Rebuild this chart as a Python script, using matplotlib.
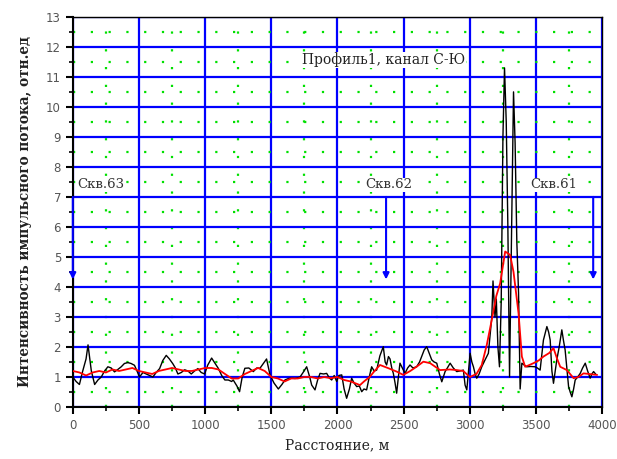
import matplotlib
matplotlib.use("Agg")
import matplotlib.pyplot as plt
from matplotlib.ticker import MultipleLocator

# ---- data ----
black_x = [0, 25, 50, 75, 100, 115, 140, 165, 190, 215, 240, 265, 290, 315, 340, 366, 390, 416, 440, 466,
           485, 504, 530, 555, 580, 605, 630, 656, 680, 706, 730, 756, 775, 794, 820, 845, 870, 895, 920, 945,
           970, 996, 1020, 1049, 1075, 1099, 1125, 1149, 1175, 1200, 1212, 1240, 1260, 1280, 1300, 1330, 1364,
           1390, 1414, 1440, 1464, 1490, 1520, 1553, 1580, 1603, 1630, 1654, 1680, 1717, 1740, 1767, 1790, 1805,
           1830, 1850, 1868, 1895, 1918, 1940, 1956, 1975, 1994, 2010, 2032, 2050, 2069, 2090, 2107, 2125, 2145,
           2165, 2183, 2200, 2220, 2240, 2258, 2277, 2296, 2320, 2346, 2360, 2371, 2385, 2397, 2410, 2422, 2435,
           2447, 2460, 2472, 2490, 2510, 2530, 2548, 2570, 2598, 2620, 2636, 2655, 2674, 2692, 2712, 2730, 2750,
           2770, 2788, 2800, 2813, 2830, 2851, 2875, 2901, 2925, 2951, 2964, 2977, 2990, 3002, 3015, 3027, 3040,
           3052, 3070, 3090, 3115, 3140, 3155, 3166, 3175, 3190, 3200, 3212, 3224, 3237, 3250, 3262, 3275, 3287,
           3300, 3315, 3330, 3342, 3355, 3368, 3380, 3393, 3410, 3430, 3460, 3494, 3510, 3531, 3556, 3582, 3595,
           3607, 3620, 3632, 3645, 3657, 3675, 3695, 3708, 3720, 3735, 3746, 3758, 3771, 3784, 3796, 3815, 3834,
           3852, 3872, 3890, 3909, 3922, 3935, 3950]
black_y = [1.0, 0.85, 0.75, 1.2, 1.6, 2.07, 1.2, 0.75, 0.9, 1.0, 1.2, 1.34, 1.3, 1.17, 1.25, 1.34, 1.45, 1.48, 1.45, 1.39,
           1.2, 1.0, 1.15, 1.1, 1.05, 1.0, 1.15, 1.28, 1.55, 1.72, 1.6, 1.44, 1.3, 1.1, 1.15, 1.24, 1.2, 1.1, 1.2, 1.28,
           1.15, 1.1, 1.4, 1.63, 1.45, 1.29, 1.05, 0.9, 0.9, 0.85, 0.9, 0.7, 0.51, 1.0, 1.29, 1.3, 1.18,
           1.3, 1.29, 1.45, 1.6, 1.07, 0.8, 0.6, 0.75, 0.9, 0.95, 0.96, 0.95, 1.0, 1.15, 1.34, 1.0, 0.73,
           0.57, 0.9, 1.12, 1.1, 1.12, 0.96, 0.9, 1.05, 0.85, 1.05, 1.07, 0.6, 0.29, 0.6, 0.96, 0.8, 0.68,
           0.7, 0.51, 0.6, 0.57, 1.0, 1.34, 1.2, 1.23, 1.7, 2.01, 1.5, 1.4, 1.68, 1.6, 1.3, 1.12, 0.8,
           0.46, 1.0, 1.46, 1.3, 1.12, 1.3, 1.4, 1.3, 1.34, 1.5, 1.68, 1.9, 2.01, 1.8, 1.57, 1.5, 1.46,
           1.1, 0.84, 1.0, 1.18, 1.3, 1.46, 1.3, 1.18, 1.2, 1.23, 0.73, 0.57, 1.2, 1.79, 1.5, 1.34, 1.1,
           0.96, 1.1, 1.34, 1.57, 1.79, 2.5, 3.0, 4.2, 3.0, 3.6, 2.0, 1.34, 3.5, 9.0, 11.3, 9.5, 6.1,
           1.0, 5.7, 10.5, 8.8, 5.5, 3.8, 0.6, 1.46, 1.4, 1.34, 1.35, 1.34, 1.3, 1.23, 2.23, 2.68, 2.5,
           2.23, 1.2, 0.79, 1.2, 1.57, 2.0, 2.57, 2.2, 1.9, 1.2, 0.68, 0.5, 0.34, 0.6, 0.9, 1.0, 1.12,
           1.3, 1.46, 1.2, 0.96, 1.1, 1.18, 1.1]

red_x = [0, 50, 100, 150, 200, 250, 300, 350, 400, 450, 500, 550, 600, 650, 700, 750, 800, 850, 900, 950,
         1000, 1050, 1100, 1150, 1200, 1250, 1300, 1350, 1400, 1450, 1500, 1550, 1600, 1650, 1700, 1750, 1800,
         1850, 1900, 1950, 2000, 2050, 2100, 2170, 2200, 2245, 2280, 2321, 2380, 2447, 2497, 2550, 2600, 2649,
         2700, 2775, 2850, 2901, 2950, 3000, 3050, 3090, 3128, 3170, 3200, 3229, 3267, 3304, 3330, 3368, 3393,
         3418, 3450, 3481, 3520, 3556, 3600, 3632, 3660, 3683, 3733, 3784, 3820, 3859, 3900, 3960]
red_y = [1.2, 1.15, 1.05, 1.15, 1.2, 1.15, 1.25, 1.2, 1.25, 1.3, 1.2, 1.15, 1.1, 1.2, 1.25, 1.3, 1.25, 1.2, 1.2, 1.25,
         1.3, 1.3, 1.25, 1.1, 0.95, 0.95, 1.1, 1.2, 1.3, 1.2, 1.0, 0.95, 0.85, 0.95, 0.95, 1.0, 1.0,
         0.95, 1.0, 0.96, 1.0, 0.9, 0.85, 0.73, 0.85, 1.01, 1.2, 1.4, 1.3, 1.18, 1.07, 1.2, 1.35, 1.51,
         1.46, 1.23, 1.25, 1.23, 1.2, 1.0, 1.1, 1.4, 2.07, 3.0, 3.7, 4.12, 5.18, 5.07, 4.5, 3.12, 1.68,
         1.34, 1.4, 1.46, 1.55, 1.68, 1.8, 1.96, 1.6, 1.34, 1.23, 0.96, 1.0, 1.12, 1.1, 1.07]

well_x = [0, 2367, 3932]
well_labels = ["Скв.63", "Скв.62", "Скв.61"]
well_label_x = [30, 2208, 3456]
title_text = "Профиль1, канал С-Ю"
xlabel = "Расстояние, м"
ylabel = "Интенсивность импульсного потока, отн.ед"

fig = plt.figure(figsize=(6.17, 4.59), dpi=100)
ax = fig.add_axes([0.118, 0.1133, 0.858, 0.85])

ax.set_xlim(0, 4000)
ax.set_ylim(0, 13)
ax.xaxis.set_major_locator(MultipleLocator(500))
ax.xaxis.set_minor_locator(MultipleLocator(250))
ax.yaxis.set_major_locator(MultipleLocator(1))
ax.yaxis.set_minor_locator(MultipleLocator(0.5))

ax.grid(which='major', color='#0000ff', linewidth=1.6, zorder=1)
ax.grid(which='minor', color='#00e000', linewidth=1.6, linestyle=(0, (1, 7)), zorder=1)
ax.set_axisbelow(True)

ax.plot(black_x, black_y, color='black', linewidth=1.0, zorder=3)
ax.plot(red_x, red_y, color='red', linewidth=1.3, zorder=4)

for wx in well_x:
    ax.annotate('', xy=(wx, 4.25), xytext=(wx, 7.0),
                arrowprops=dict(arrowstyle='-|>', color='#0000ff', lw=1.5,
                                mutation_scale=9, shrinkA=0, shrinkB=0),
                zorder=5, annotation_clip=False)
for lx, lab in zip(well_label_x, well_labels):
    ax.text(lx, 7.4, lab, fontsize=9.5, family='DejaVu Serif', color='#333333',
            ha='left', va='center', zorder=6,
            bbox=dict(facecolor='white', edgecolor='none', pad=0.5))

ax.text(1730, 11.57, title_text, fontsize=10, family='DejaVu Serif', color='#222222',
        ha='left', va='center', zorder=6,
        bbox=dict(facecolor='white', edgecolor='none', pad=0.5))

ax.tick_params(which='both', direction='out', color='black', labelcolor='#555555',
               labelsize=8.5)
ax.tick_params(which='major', length=5, width=1.5)
ax.tick_params(which='minor', length=3, width=1.2)
for s in ['left', 'bottom']:
    ax.spines[s].set_linewidth(1.5)
for s in ['top', 'right']:
    ax.spines[s].set_linewidth(1.0)

ax.set_xlabel(xlabel, fontsize=10, family='DejaVu Serif', color='#222222', labelpad=5)
ax.set_ylabel(ylabel, fontsize=9.8, family='DejaVu Serif', fontweight='bold', color='#222222', labelpad=10)

fig.savefig('out.png', dpi=100)
